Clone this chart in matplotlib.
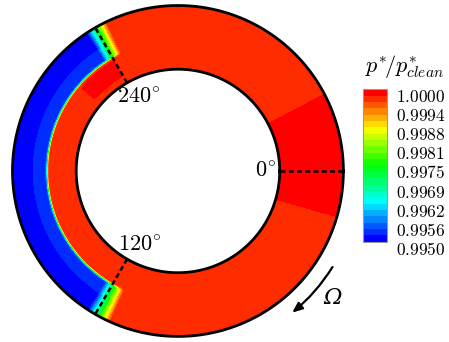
import numpy as np
import matplotlib
matplotlib.use("Agg")
import matplotlib.pyplot as plt
from matplotlib.colors import LinearSegmentedColormap, ListedColormap

plt.rcParams["mathtext.fontset"] = "cm"
plt.rcParams["font.family"] = "serif"

# pressure ratio range of the colour scale
p_min, p_max = 0.9950, 1.0000
n_bands = 24
p_base = 0.99970   # bulk of the annulus (orange-red)
p_peak = 0.99990   # pure red pockets

# blue sector between 120 and 240 deg (angles clockwise from 0 deg)
sector_theta = [0, 114, 123, 236.5, 244.5, 360]
sector_weight = [0, 0, 1, 1, 0, 0]
# radial profile inside the sector, s = 0 at inner wall, 1 at outer wall
sector_s = [0.0, 0.43, 0.465, 0.49, 0.66, 0.70, 1.0]
sector_p = [0.99970, 0.99970, 0.99555, 0.99532, 0.99530, 0.99505, 0.99505]

# high pressure pocket around 0 deg
pocket_theta = [0, 15, 17, 331, 334, 360]
pocket_weight = [1, 1, 0, 0, 1, 1]

# small pocket just before 240 deg, inner half
spot_theta = [0, 218, 224, 238, 241, 360]
spot_weight = [0, 0, 1, 1, 0, 0]
spot_s = [0.0, 0.10, 0.15, 0.38, 0.42, 1.0]
spot_weight_s = [0, 0, 1, 1, 0, 0]

cb_ticks = [0.995, 0.995625, 0.99625, 0.996875, 0.9975, 0.998125, 0.99875, 0.999375, 1.0]
cb_labels = ["0.9950", "0.9956", "0.9962", "0.9969", "0.9975",
             "0.9981", "0.9988", "0.9994", "1.0000"]

r_in, r_out = 0.615, 1.0

# build the field on a polar grid
th = np.linspace(0, 360, 721)
s = np.linspace(0, 1, 81)
TH, S = np.meshgrid(th, s)
w = np.interp(TH, sector_theta, sector_weight)
prad = np.interp(S, sector_s, sector_p)
Z = p_base - (p_base - prad) * w
Z += (p_peak - p_base) * np.interp(TH, pocket_theta, pocket_weight)
Z += (p_peak - p_base) * np.interp(TH, spot_theta, spot_weight) * np.interp(S, spot_s, spot_weight_s)
Z = np.clip(Z, p_min + 1e-6, p_max - 1e-6)
R = r_in + S * (r_out - r_in)

rainbow = LinearSegmentedColormap.from_list(
    "small_rainbow", ["#0000ff", "#00ffff", "#00ff00", "#ffff00", "#ff0000"])
cmap = ListedColormap(rainbow(np.linspace(0, 1, n_bands)))
levels = np.linspace(p_min, p_max, n_bands + 1)

fig = plt.figure(figsize=(4.49, 3.42), dpi=100)
ax = fig.add_axes([0.0278, 0.0161, 0.737, 0.968], projection="polar")
ax.set_theta_zero_location("E")
ax.set_theta_direction(-1)
cs = ax.contourf(np.radians(TH), R, Z, levels=levels, cmap=cmap)
ax.set_ylim(0, r_out)
ax.grid(False)
ax.set_xticks([])
ax.set_yticks([])
ax.spines["polar"].set_visible(False)

# walls
circ = np.linspace(0, 2 * np.pi, 721)
ax.plot(circ, np.full_like(circ, r_out), color="k", lw=2.0, clip_on=False)
ax.plot(circ, np.full_like(circ, r_in), color="k", lw=2.0, clip_on=False)

# probe lines
for a in [0, 120, 240]:
    ax.plot([np.radians(a)] * 2, [r_in, r_out], color="k", lw=1.8,
            dashes=(2.0, 1.3))

ax.text(0, r_in - 0.02, r"$0^{\!\circ}$", ha="right", va="center", fontsize=16)
ax.text(np.radians(242.2), 0.505, r"$240^{\!\circ}$", ha="center", va="center", fontsize=16)
ax.text(np.radians(117.2), 0.503, r"$120^{\!\circ}$", ha="center", va="center", fontsize=16)

# rotation arrow
ax.annotate("", xy=(np.radians(52), 1.1), xytext=(np.radians(31), 1.1),
            arrowprops=dict(arrowstyle="-|>,head_length=0.6,head_width=0.25",
                            connectionstyle="arc3,rad=-0.09", color="k", lw=1.6),
            annotation_clip=False)
ax.text(np.radians(39.3), 1.21, "Ω", ha="center", va="center",
        fontsize=16, family="DejaVu Serif", style="italic")

# colour bar
cax = fig.add_axes([0.8078, 0.2933, 0.0535, 0.4456])
cb = fig.colorbar(cs, cax=cax, ticks=cb_ticks)
cb.set_ticklabels(["$" + t + "$" for t in cb_labels])
cax.tick_params(length=0, pad=7, labelsize=12.5)
for lab in cax.get_yticklabels():
    lab.set_va("top")
cb.outline.set_linewidth(0.8)
cb.outline.set_edgecolor("#999999")
fig.text(405 / 449, 1 - 66 / 342, r"$p^{*}\!/p^{*}_{clean}$", ha="center", va="center",
         fontsize=16)

fig.savefig("out.png", dpi=100)
